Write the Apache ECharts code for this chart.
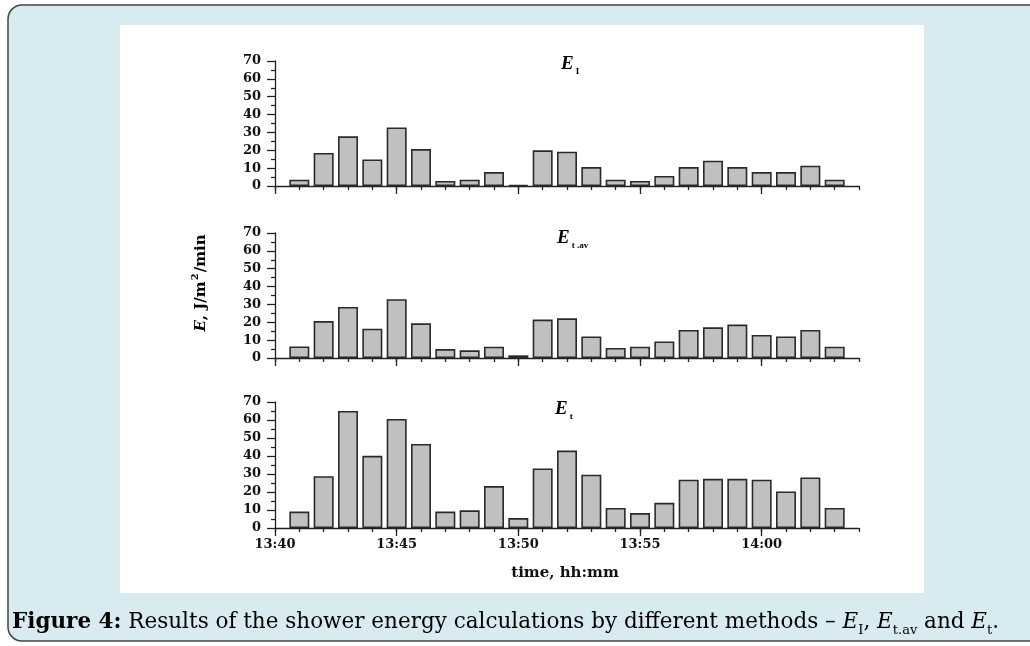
<!DOCTYPE html>
<html>
<head>
<meta charset="utf-8">
<title>Shower energy</title>
<script src="https://cdn.jsdelivr.net/npm/echarts@6/dist/echarts.min.js"></script>
<style>
  html, body { margin: 0; padding: 0; background: #ffffff; }
  #chart { width: 1030px; height: 646px; }
</style>
</head>
<body>
<div id="chart"></div>
<script>
// minutes after 13:40, one bar per minute
const times = ['13:41', '13:42', '13:43', '13:44', '13:45', '13:46', '13:47', '13:48', '13:49', '13:50',
  '13:51', '13:52', '13:53', '13:54', '13:55', '13:56', '13:57', '13:58', '13:59', '14:00',
  '14:01', '14:02', '14:03'];
const tickLabels = ['13:40', '13:45', '13:50', '13:55', '14:00'];

const energyI = [3.5, 18.5, 27.8, 14.9, 32.8, 20.7, 2.8, 3.5, 7.8, 0.6,
  20.0, 19.2, 10.6, 3.5, 2.8, 5.6, 10.6, 14.2, 10.6, 7.8,
  7.8, 11.4, 3.5];
const energyTav = [6.5, 20.7, 28.6, 16.4, 32.9, 19.4, 5.0, 4.3, 6.3, 1.5,
  21.5, 22.2, 12.1, 5.6, 6.3, 9.3, 15.7, 17.2, 18.7, 12.9,
  12.1, 15.7, 6.3];
const energyT = [9.1, 28.8, 65.0, 40.1, 60.6, 46.7, 9.1, 9.8, 23.3, 5.5,
  33.1, 43.0, 29.6, 11.1, 8.3, 14.0, 26.8, 27.3, 27.3, 26.8,
  20.3, 28.1, 11.1];

const panels = [energyI, energyTav, energyT];

function toMinutes(t) {
  const p = t.split(':');
  return (Number(p[0]) - 13) * 60 + Number(p[1]) - 40;
}

const chart = echarts.init(document.getElementById('chart'));

const serif = 'DejaVu Serif';
const axisColor = '#222';
const gridTops = [61, 233, 402];
const gridHeights = [125, 125, 126];

const grids = [], xAxes = [], yAxes = [], series = [];
const majorValues = tickLabels.map(toMinutes);

panels.forEach(function (values, i) {
  grids.push({ left: 275, width: 584, top: gridTops[i], height: gridHeights[i] });
  const isLast = i === panels.length - 1;
  // major ticks every 5 min (+ labels on bottom panel)
  xAxes.push({
    type: 'value', gridIndex: i, position: 'bottom', min: 0, max: 24, interval: 5,
    axisLine: { show: true, lineStyle: { color: axisColor, width: 1.3 } },
    axisTick: { show: true, length: 8, customValues: majorValues, lineStyle: { color: axisColor, width: 1.3 } },
    axisLabel: {
      show: isLast, customValues: majorValues, margin: 10,
      fontFamily: serif, fontWeight: 'bold', fontSize: 13, color: '#111',
      formatter: function (v) { return tickLabels[majorValues.indexOf(v)] || ''; }
    },
    splitLine: { show: false }
  });
  // minute ticks
  xAxes.push({
    type: 'value', gridIndex: i, position: 'bottom', min: 0, max: 24, interval: 1,
    axisLine: { show: false },
    axisTick: { show: true, length: 4, lineStyle: { color: axisColor, width: 1.3 } },
    axisLabel: { show: false },
    splitLine: { show: false }
  });
  yAxes.push({
    type: 'value', gridIndex: i, min: 0, max: 70, interval: 10,
    axisLine: { show: true, lineStyle: { color: axisColor, width: 1.3 } },
    axisTick: { show: true, length: 8, lineStyle: { color: axisColor, width: 1.3 } },
    minorTick: { show: true, splitNumber: 2, length: 4, lineStyle: { color: axisColor, width: 1.3 } },
    axisLabel: { margin: 14, fontFamily: serif, fontWeight: 'bold', fontSize: 13, color: '#111' },
    splitLine: { show: false }
  });
  series.push({
    type: 'bar', xAxisIndex: i * 2, yAxisIndex: i, barWidth: 20,
    itemStyle: { color: '#c0c0c0', borderColor: '#2a2a2a', borderWidth: 1.6 },
    data: values.map(function (v, k) { return [toMinutes(times[k]), v]; }),
    animation: false
  });
});

const subRich = {
  e: { fontFamily: 'Liberation Serif', fontStyle: 'italic', fontWeight: 'bold', fontSize: 19, lineHeight: 24, color: '#111' },
  s: { fontFamily: 'Liberation Serif', fontWeight: 'bold', fontSize: 9, lineHeight: 9, padding: [16, 0, 0, 2], color: '#111' }
};

const capRich = {
  b: { fontFamily: serif, fontWeight: 'bold', fontSize: 21.5, lineHeight: 30, color: '#111' },
  n: { fontFamily: serif, fontSize: 21.5, lineHeight: 30, color: '#111' },
  i: { fontFamily: serif, fontStyle: 'italic', fontSize: 21.5, lineHeight: 30, color: '#111' },
  s: { fontFamily: serif, fontSize: 13, lineHeight: 13, padding: [17, 0, 0, 0], color: '#111' }
};

chart.setOption({
  animation: false,
  grid: grids,
  xAxis: xAxes,
  yAxis: yAxes,
  series: series,
  graphic: [
    { type: 'rect', z: -10, shape: { x: 8, y: 5, width: 1040, height: 636, r: 14 },
      style: { fill: '#d8ebf0', stroke: '#444', lineWidth: 1.5 } },
    { type: 'rect', z: -9, shape: { x: 120, y: 25, width: 804, height: 568 },
      style: { fill: '#ffffff' } },
    { type: 'text', x: 561, y: 52, style: { text: '{e|E}{s|I}', rich: subRich } },
    { type: 'text', x: 557, y: 226, style: { text: '{e|E}{s|t .av}', rich: subRich } },
    { type: 'text', x: 555, y: 397, style: { text: '{e|E}{s|t}', rich: subRich } },
    { type: 'text', x: 201, y: 283, rotation: Math.PI / 2,
      style: {
        text: '{e|E}{n|, J/m}{p|2}{n|/min}', align: 'center', verticalAlign: 'middle',
        rich: {
          e: { fontFamily: serif, fontStyle: 'italic', fontWeight: 'bold', fontSize: 15, lineHeight: 20, color: '#111' },
          n: { fontFamily: serif, fontWeight: 'bold', fontSize: 15, lineHeight: 20, color: '#111' },
          p: { fontFamily: serif, fontWeight: 'bold', fontSize: 10, lineHeight: 10, padding: [0, 1, 11, 1], color: '#111' }
        }
      } },
    { type: 'text', x: 565, y: 573,
      style: { text: 'time, hh:mm', align: 'center', verticalAlign: 'middle',
        fontFamily: serif, fontWeight: 'bold', fontSize: 15, fill: '#111' } },
    { type: 'text', x: 12, y: 607,
      style: {
        text: '{b|Figure 4:}{n| Results of the shower energy calculations by different methods – }{i|E}{s|I}{n|, }{i|E}{s|t.av}{n| and }{i|E}{s|t}{n|.}',
        rich: capRich
      } }
  ]
});
</script>
</body>
</html>
